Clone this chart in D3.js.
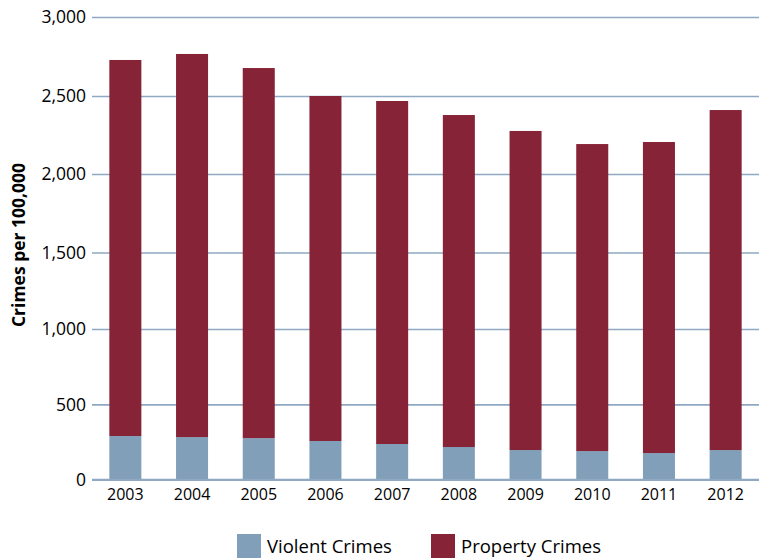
<!DOCTYPE html>
<html>
<head>
<meta charset="utf-8">
<script src="https://cdn.jsdelivr.net/npm/d3@7"></script>
<style>
  body { margin: 0; background: #fff; }
  svg { display: block; font-family: "Open Sans", "Noto Sans", sans-serif; }
</style>
</head>
<body>
<svg id="chart" width="766" height="559"></svg>
<script>
const years = ["2003","2004","2005","2006","2007","2008","2009","2010","2011","2012"];
const violent = [290, 283, 276, 257, 237, 217, 197, 190, 177, 197];
const property = [2438, 2483, 2401, 2243, 2231, 2161, 2079, 2002, 2028, 2213];
const yTicks = [0, 500, 1000, 1500, 2000, 2500, 3000];
const seriesNames = ["Violent Crimes", "Property Crimes"];
const colors = ["#819fb8", "#862337"];

const svg = d3.select("#chart");
const left = 92, right = 759;

const x = d3.scaleBand().domain(years).range([left, right]).paddingInner(0.52).paddingOuter(0.26);
// reference axis is slightly non-uniform; follow its gridline positions
const y = d3.scaleLinear().domain(yTicks).range([479.7, 404.4, 329, 252.5, 174, 96, 17]);

// gridlines
const grid = svg.append("g").attr("transform", `translate(${left},0)`)
  .call(d3.axisLeft(y).tickValues(yTicks).tickSize(-(right - left)).tickFormat(""));
grid.select(".domain").remove();
grid.selectAll(".tick line").attr("stroke", "#8ea9c1").attr("stroke-width", 1.6);

// y tick labels
const yAxis = svg.append("g").attr("transform", `translate(${left},0)`)
  .call(d3.axisLeft(y).tickValues(yTicks).tickSize(0).tickPadding(6).tickFormat(d3.format(",")));
yAxis.select(".domain").remove();
yAxis.selectAll("text").attr("font-size", 17.5).attr("fill", "#000").attr("font-family", "Open Sans");

// stacked bars
const stackData = years.map((yr, i) => ({ year: yr, v: violent[i], p: property[i] }));
const stacked = d3.stack().keys(["v", "p"])(stackData);
svg.append("g").selectAll("g").data(stacked).join("g")
  .attr("fill", (d, i) => colors[i])
  .selectAll("rect").data(d => d).join("rect")
  .attr("x", d => x(d.data.year))
  .attr("width", x.bandwidth())
  .attr("y", d => y(d[1]))
  .attr("height", d => y(d[0]) - y(d[1]));

// baseline
svg.append("line").attr("x1", left).attr("x2", right).attr("y1", y(0)).attr("y2", y(0))
  .attr("stroke", "#8ea9c1").attr("stroke-width", 1.8);

// x labels
const xAxis = svg.append("g").attr("transform", `translate(0,${y(0)})`)
  .call(d3.axisBottom(x).tickSize(0).tickPadding(9));
xAxis.select(".domain").remove();
xAxis.selectAll("text").attr("font-size", 16).attr("fill", "#000").attr("font-family", "Open Sans");

// y title
svg.append("text")
  .attr("transform", "translate(25,245) rotate(-90)")
  .attr("text-anchor", "middle")
  .attr("font-size", 17.5).attr("font-weight", "bold").attr("fill", "#000")
  .text("Crimes per 100,000");

// legend
const legendX = [237, 431];
const lg = svg.append("g").selectAll("g").data(seriesNames).join("g")
  .attr("transform", (d, i) => `translate(${legendX[i]},534)`);
lg.append("rect").attr("width", 24).attr("height", 24).attr("fill", (d, i) => colors[i]);
lg.append("text").attr("x", 30).attr("y", 19).attr("font-size", 18.5).attr("fill", "#000")
  .text(d => d);
</script>
</body>
</html>
